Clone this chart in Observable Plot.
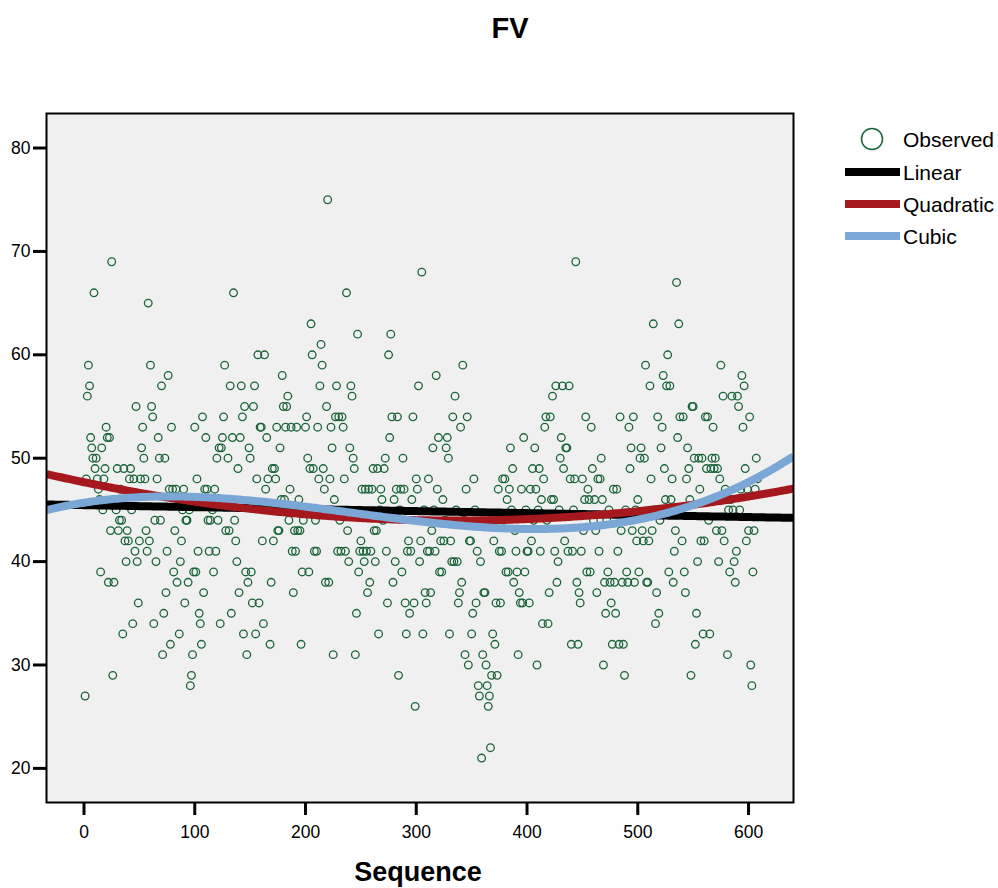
<!DOCTYPE html>
<html>
<head>
<meta charset="utf-8">
<script src="https://cdn.jsdelivr.net/npm/d3@7"></script>
<script src="https://cdn.jsdelivr.net/npm/@observablehq/plot@0.6"></script>
<style>
  body { margin: 0; background: #ffffff; }
  #chart { width: 998px; height: 888px; }
</style>
</head>
<body>
<div id="chart"></div>
<script>
// Observed FV values, in sequence order (sequence = position + 1)
const fv = [
  27,48,56,59,57,52,51,50,66,49,50,48,47,46,39,51,45,48,49,53,
  52,38,52,43,69,29,38,46,45,49,43,44,47,44,33,49,42,40,43,42,
  48,49,45,34,48,41,55,40,36,42,48,51,53,50,48,43,41,65,42,59,
  55,54,34,44,40,48,52,50,44,57,31,35,50,37,41,58,47,32,53,47,
  39,43,47,38,46,33,40,42,45,47,36,44,44,38,45,28,29,31,39,53,
  39,48,41,35,34,32,54,37,47,52,47,44,41,44,46,45,39,47,41,50,
  44,51,34,51,52,54,59,43,46,50,43,57,35,52,66,44,42,40,49,37,
  52,57,54,33,55,39,31,38,51,50,39,36,55,57,33,48,60,36,53,53,
  42,34,60,47,52,48,45,32,38,49,42,49,48,53,43,43,51,46,58,55,
  46,53,55,56,44,47,53,41,37,43,41,53,43,46,43,32,39,44,45,53,
  54,50,39,49,63,60,49,41,44,41,53,48,57,61,59,49,47,38,55,75,
  38,48,53,51,31,46,54,57,41,54,44,41,54,53,48,41,66,43,40,51,
  57,56,50,49,31,35,62,39,41,42,47,41,40,47,41,37,47,38,41,47,
  49,43,40,43,49,33,45,47,46,44,49,50,41,36,60,52,62,54,38,46,
  40,47,54,29,45,47,39,50,47,36,33,41,42,35,41,46,54,36,26,48,
  47,57,40,42,68,33,45,37,36,41,48,41,37,43,51,45,41,58,47,52,
  39,42,39,46,42,44,51,52,50,33,42,40,54,40,56,45,40,36,37,53,
  38,59,44,31,47,54,30,42,42,33,35,48,45,36,41,28,27,40,21,31,
  37,37,30,28,26,27,22,29,33,42,32,36,29,47,41,36,41,48,44,48,
  39,46,39,47,51,45,49,38,43,41,39,31,37,36,47,36,52,39,45,41,
  41,36,47,42,49,44,51,47,30,45,49,41,46,34,48,53,54,44,34,37,
  54,46,56,46,41,57,38,40,45,50,52,57,49,42,51,51,41,57,48,32,
  41,45,48,69,38,32,37,36,41,48,43,46,54,39,47,46,39,53,49,44,
  46,43,37,48,41,48,50,46,30,38,35,44,39,45,38,36,32,47,38,35,
  47,41,32,54,43,38,32,29,45,39,38,53,49,51,43,54,38,45,42,46,
  39,50,51,43,42,50,59,38,38,42,57,48,43,63,45,34,37,54,35,44,
  51,53,58,49,46,57,60,39,57,46,48,38,41,43,67,52,63,54,45,42,
  54,39,37,48,51,49,46,29,55,55,50,32,35,40,50,47,42,50,33,42,
  54,49,54,44,33,49,50,53,49,50,43,49,40,48,59,43,56,42,47,46,
  31,45,39,46,56,45,40,38,41,56,55,45,47,58,53,57,49,42,47,43,
  54,30,28,39,43,47,50,48
];

// Axis tick values
const xTicks = [0, 100, 200, 300, 400, 500, 600];
const yTicks = [20, 30, 40, 50, 60, 70, 80];

// Legend series and colours
const seriesNames = ["Observed", "Linear", "Quadratic", "Cubic"];
const seriesColors = ["#1a6438", "#000000", "#a5191e", "#7ba7d6"];

// Fitted curve coefficients (constant, x, x^2, x^3)
const linearCoef = [45.46, -0.00192];
const quadraticCoef = [47.68, -0.02215, 3.306e-5];
const cubicCoef = [45.696, 0.016672, -1.2820e-4, 1.7659e-7];

const xDomain = [-33.86, 640.6];
const yDomain = [16.70, 83.34];

const observed = fv.map((v, i) => ({ seq: i + 1, fv: v }));

const poly = (coef, x) => coef.reduce((s, c, k) => s + c * Math.pow(x, k), 0);
const samples = d3.range(xDomain[0], xDomain[1], 2).concat([xDomain[1]]);
const fits = [
  { name: seriesNames[1], coef: linearCoef },
  { name: seriesNames[2], coef: quadraticCoef },
  { name: seriesNames[3], coef: cubicCoef }
];
const fitData = fits.flatMap(f => samples.map(x => ({ model: f.name, x, y: poly(f.coef, x) })));

const plot = Plot.plot({
  width: 998,
  height: 888,
  marginLeft: 46,
  marginRight: 205,
  marginTop: 113,
  marginBottom: 86,
  style: { fontFamily: "'Liberation Sans', Arial, Helvetica, sans-serif", background: "#ffffff", color: "#000000" },
  x: { domain: xDomain },
  y: { domain: yDomain },
  color: { domain: seriesNames.slice(1), range: seriesColors.slice(1) },
  marks: [
    Plot.frame({ fill: "#f0f0f0" }),
    Plot.dot(observed, { x: "seq", y: "fv", r: 3.8, stroke: seriesColors[0], strokeWidth: 1.3, fill: "none" }),
    Plot.line(fitData, { x: "x", y: "y", z: "model", stroke: "model", strokeWidth: 8, strokeLinecap: "butt", clip: true }),
    Plot.frame({ stroke: "#000000", strokeWidth: 2 }),
    Plot.axisX({ ticks: xTicks, tickSize: 13, tickPadding: 10, fontSize: 17.5, strokeWidth: 3, label: null }),
    Plot.axisY({ ticks: yTicks, tickSize: 13, tickPadding: 3, fontSize: 17.5, strokeWidth: 3, label: null })
  ]
});

document.getElementById("chart").appendChild(plot);

const svg = d3.select(plot);
svg.append("text")
  .attr("x", 510).attr("y", 38)
  .attr("text-anchor", "middle")
  .attr("font-size", 29).attr("font-weight", "bold")
  .attr("fill", "#000")
  .text("FV");

svg.append("text")
  .attr("x", 418).attr("y", 881)
  .attr("text-anchor", "middle")
  .attr("font-size", 27).attr("font-weight", "bold")
  .attr("fill", "#000")
  .text("Sequence");

const legendY = [139, 172, 204, 236];
const lg = svg.append("g").attr("text-anchor", "start");
seriesNames.forEach((name, i) => {
  if (i === 0) {
    lg.append("circle")
      .attr("cx", 872).attr("cy", legendY[i]).attr("r", 10.5)
      .attr("fill", "none").attr("stroke", seriesColors[i]).attr("stroke-width", 1.5);
  } else {
    lg.append("line")
      .attr("x1", 845).attr("x2", 900)
      .attr("y1", legendY[i]).attr("y2", legendY[i])
      .attr("stroke", seriesColors[i]).attr("stroke-width", 8);
  }
  lg.append("text")
    .attr("x", 903).attr("y", legendY[i] + 7.5)
    .attr("text-anchor", "start")
    .attr("font-size", 21)
    .attr("fill", "#000")
    .text(name);
});
</script>
</body>
</html>
